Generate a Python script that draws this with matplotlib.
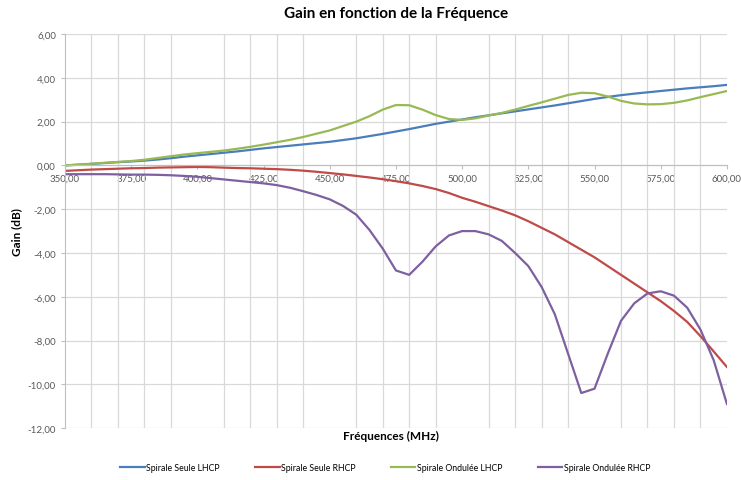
import matplotlib
matplotlib.use("Agg")
import matplotlib.pyplot as plt
from matplotlib.ticker import MultipleLocator, FuncFormatter

plt.rcParams['font.family'] = ['Lato', 'DejaVu Sans']

# frequences (MHz), un point tous les 5 MHz
freq = list(range(350, 605, 5))

seule_lhcp = [0.00, 0.03, 0.07, 0.11, 0.15, 0.18, 0.22, 0.27, 0.33, 0.40,
              0.46, 0.52, 0.58, 0.64, 0.71, 0.78, 0.84, 0.90, 0.96, 1.02,
              1.08, 1.16, 1.24, 1.34, 1.44, 1.55, 1.66, 1.78, 1.90, 2.00,
              2.10, 2.20, 2.29, 2.38, 2.47, 2.56, 2.65, 2.74, 2.84, 2.94,
              3.04, 3.13, 3.21, 3.28, 3.34, 3.40, 3.46, 3.52, 3.57, 3.62, 3.68]

seule_rhcp = [-0.25, -0.22, -0.19, -0.17, -0.15, -0.13, -0.12, -0.10, -0.09, -0.08,
              -0.07, -0.08, -0.10, -0.12, -0.13, -0.15, -0.17, -0.20, -0.24, -0.29,
              -0.35, -0.41, -0.48, -0.55, -0.63, -0.72, -0.82, -0.94, -1.08, -1.26,
              -1.48, -1.66, -1.86, -2.06, -2.28, -2.55, -2.85, -3.15, -3.50, -3.85,
              -4.20, -4.60, -5.00, -5.40, -5.80, -6.20, -6.65, -7.15, -7.80, -8.50, -9.21]

ondulee_lhcp = [0.00, 0.04, 0.08, 0.12, 0.16, 0.20, 0.26, 0.34, 0.42, 0.50,
                0.56, 0.62, 0.68, 0.76, 0.85, 0.95, 1.06, 1.17, 1.30, 1.45,
                1.60, 1.80, 2.00, 2.25, 2.55, 2.76, 2.75, 2.55, 2.30, 2.12,
                2.08, 2.15, 2.28, 2.40, 2.55, 2.72, 2.88, 3.05, 3.22, 3.32,
                3.30, 3.15, 2.95, 2.83, 2.79, 2.80, 2.86, 2.97, 3.12, 3.26, 3.40]

ondulee_rhcp = [-0.40, -0.40, -0.40, -0.40, -0.41, -0.42, -0.42, -0.43, -0.45, -0.48,
                -0.52, -0.58, -0.64, -0.70, -0.76, -0.82, -0.90, -1.02, -1.18, -1.35,
                -1.55, -1.85, -2.25, -2.95, -3.80, -4.80, -5.00, -4.40, -3.70, -3.20,
                -3.00, -3.00, -3.15, -3.45, -4.00, -4.60, -5.55, -6.80, -8.60, -10.40,
                -10.20, -8.60, -7.10, -6.30, -5.85, -5.75, -5.95, -6.50, -7.50, -8.90, -10.90]

series = [
    ("Spirale Seule LHCP", seule_lhcp, "#4A7EBB"),
    ("Spirale Seule RHCP", seule_rhcp, "#BE4B48"),
    ("Spirale Ondulée LHCP", ondulee_lhcp, "#98B954"),
    ("Spirale Ondulée RHCP", ondulee_rhcp, "#7D60A0"),
]

fig = plt.figure(figsize=(7.41, 4.81), dpi=100)
ax = fig.add_axes([0.0877, 0.108, 0.8933, 0.819])

for nom, vals, coul in series:
    ax.plot(freq, vals, color=coul, lw=1.6, label=nom)

ax.set_xlim(350, 600)
ax.set_ylim(-12, 6)

fmt = FuncFormatter(lambda v, p: f"{v:.2f}".replace(".", ","))
ax.xaxis.set_major_locator(MultipleLocator(25))
ax.xaxis.set_minor_locator(MultipleLocator(10))
ax.yaxis.set_major_locator(MultipleLocator(2))
ax.xaxis.set_major_formatter(fmt)
ax.yaxis.set_major_formatter(fmt)

ax.grid(False)
ax.grid(which='minor', axis='x', color='#D9D9D9', lw=0.9)
ax.grid(which='major', axis='y', color='#D9D9D9', lw=0.9)
ax.set_axisbelow(True)

ax.spines['bottom'].set_position(('data', 0))
ax.spines['bottom'].set_color('#BFBFBF')
ax.spines['left'].set_color('#BFBFBF')
ax.spines['top'].set_visible(False)
ax.spines['right'].set_visible(False)

ax.tick_params(axis='both', which='major', labelsize=7, colors='#595959',
               length=3, color='#BFBFBF')
ax.tick_params(axis='x', which='minor', length=0)
ax.tick_params(axis='x', which='major', pad=3)

ax.set_title("Gain en fonction de la Fréquence", fontsize=11, fontweight='bold', pad=12)
ax.set_ylabel("Gain (dB)", fontsize=8.5, fontweight='bold')
ax.yaxis.set_label_coords(-0.065, 0.5)
fig.text(0.528, 0.085, "Fréquences (MHz)", ha='center', fontsize=8.5, fontweight='bold')

fig.legend(loc='center', bbox_to_anchor=(0.52, 0.025), ncol=4, frameon=False,
           fontsize=6.3, handlelength=2.8, columnspacing=4, handletextpad=0.2)

fig.savefig("out.png", dpi=100)
